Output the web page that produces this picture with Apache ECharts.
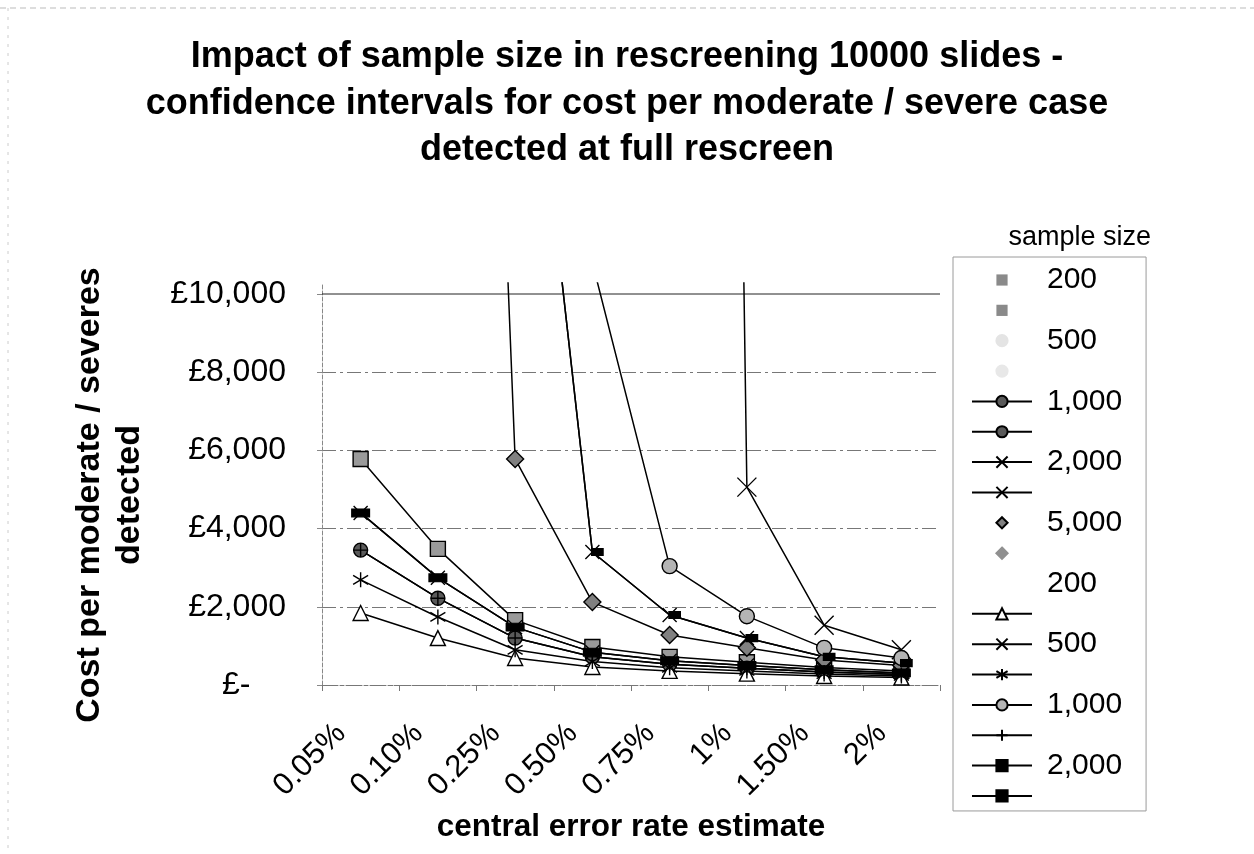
<!DOCTYPE html>
<html>
<head>
<meta charset="utf-8">
<script src="https://cdn.jsdelivr.net/npm/echarts@6/dist/echarts.min.js"></script>
<style>html,body{margin:0;padding:0;background:#fff}#c{width:1254px;height:854px}</style>
</head>
<body>
<div id="c"></div>
<script>
// ---- data ----
const categories = ['0.05%', '0.10%', '0.25%', '0.50%', '0.75%', '1%', '1.50%', '2%'];
const yTicks = [0, 2000, 4000, 6000, 8000, 10000];

// left family (finite from the smallest rate)
const graySquareVals = [5780, 3480, 1660, 970, 720, 580, 450, 360];
const xBarVals       = [4400, 2740, 1480, 840, 620, 500, 390, 310];
const darkCircleVals = [3450, 2220, 1200, 720, 530, 430, 330, 270];
const asteriskVals   = [2690, 1740, 900, 600, 440, 360, 280, 230];
const triangleVals   = [1840, 1200, 690, 460, 360, 290, 230, 190];
// right family (off the chart at low rates)
const diamondVals    = ['-', 55000, 5780, 2120, 1280, 950, 640, 500];
const xSmallBarVals  = ['-', '-', 21000, 3400, 1790, 1200, 720, 560];
const grayCircleVals = ['-', '-', '-', 10800, 3040, 1760, 950, 690];
const bigXVals       = ['-', '-', '-', '-', 140000, 5060, 1530, 900];

const legendNames  = ['u200a','u200b','u500a','u500b','u1000a','u1000b','u2000a','u2000b','u5000a','u5000b',
                      'l200a','l200b','l500a','l500b','l1000a','l1000b','l2000a','l2000b'];
const legendLabels = ['200','','500','','1,000','','2,000','','5,000','',
                      '200','','500','','1,000','','2,000',''];

// ---- styles ----
const FONT = '"Liberation Sans", Arial, Helvetica, sans-serif';
const X_PATH = 'path://M0,0L10,10M10,0L0,10';
const AST_PATH = 'path://M5,0L5,10M0.7,2L9.3,8M0.7,8L9.3,2';
const PLUS_PATH = 'path://M5,0L5,10M0,5L10,5';
const LINE = {color: '#000', width: 1.5};

function ser(name, data, symbol, size, fill, border, extra) {
  return Object.assign({
    name: name, type: 'line', data: data,
    symbol: symbol, symbolSize: size, showSymbol: true,
    lineStyle: LINE,
    itemStyle: {color: fill, borderColor: border, borderWidth: 1.4},
    emphasis: {disabled: true},
    animation: false, z: 3
  }, extra || {});
}

const series = [
  ser('u200a', graySquareVals, 'rect', 15, '#9a9a9a', '#000'),
  ser('u200b', [], 'rect', 10, '#8a8a8a', '#8a8a8a'),
  ser('u500a', [], 'circle', 6, '#e4e4e4', '#e4e4e4'),
  ser('u500b', [], 'circle', 6, '#e8e8e8', '#e8e8e8'),
  ser('u1000a', darkCircleVals, 'circle', 14, '#5a5a5a', '#000'),
  ser('u1000b', [], 'circle', 14, '#5a5a5a', '#000'),
  ser('u2000a', xSmallBarVals, X_PATH, 14, 'transparent', '#000'),
  ser('u2000b', xBarVals, X_PATH, 14, 'transparent', '#000'),
  ser('u5000a', diamondVals, 'diamond', 17, '#808080', '#000'),
  ser('u5000b', [], 'diamond', 17, '#909090', '#909090'),
  ser('l200a', [], 'none', 1, 'transparent', 'transparent'),
  ser('l200b', triangleVals, 'triangle', 15, '#fff', '#000'),
  ser('l500a', bigXVals, X_PATH, 19, 'transparent', '#000'),
  ser('l500b', asteriskVals, AST_PATH, 15, 'transparent', '#000'),
  ser('l1000a', grayCircleVals, 'circle', 15, '#b4b4b4', '#000'),
  ser('l1000b', darkCircleVals, PLUS_PATH, 14, 'transparent', '#000'),
  ser('l2000a', xSmallBarVals, 'rect', [11, 7], '#000', '#000', {symbolOffset: [5, 0]}),
  ser('l2000b', xBarVals, 'rect', [17, 8], '#000', '#000')
];

const hideLine = {width: 0, opacity: 0};
const legendData = legendNames.map(function (n) {
  const item = {name: n};
  if (['u200a','u200b','u500a','u500b','u5000a','u5000b'].indexOf(n) >= 0) item.lineStyle = hideLine;
  if (n === 'u200a' || n === 'u200b') item.itemStyle = {borderWidth: 0, color: '#8a8a8a'};
  if (n === 'l200a') { item.lineStyle = hideLine; item.itemStyle = {opacity: 0}; }
  return item;
});

const chart = echarts.init(document.getElementById('c'), null, {renderer: 'canvas'});
chart.setOption({
  backgroundColor: '#fff',
  animation: false,
  textStyle: {fontFamily: FONT},
  title: [
    {
      text: 'Impact of sample size in rescreening 10000 slides -\nconfidence intervals for cost per moderate / severe case\ndetected at full rescreen',
      left: 'center', top: 34, padding: 0,
      textStyle: {fontFamily: FONT, fontSize: 36, fontWeight: 'bold', color: '#000', lineHeight: 46.5}
    },
    {
      text: 'sample size', right: 103, top: 224, padding: 0,
      textStyle: {fontFamily: FONT, fontSize: 27, fontWeight: 'normal', color: '#000'}
    }
  ],
  legend: {
    orient: 'vertical', left: 953, top: 257,
    padding: [8, 24, 0, 18],
    itemWidth: 60, itemHeight: 14, itemGap: 0.35,
    borderColor: '#9a9a9a', borderWidth: 1,
    selectedMode: false,
    data: legendData,
    formatter: function (name) {
      const lab = legendLabels[legendNames.indexOf(name)];
      return lab === '' ? '\u00a0' : lab;
    },
    textStyle: {fontFamily: FONT, fontSize: 30, color: '#000', lineHeight: 30, padding: [0, 0, 0, 10]}
  },
  grid: {left: 322, right: 314, top: 283, bottom: 169, containLabel: false},
  xAxis: {
    type: 'category', data: categories, boundaryGap: true,
    name: 'central error rate estimate', nameLocation: 'middle', nameGap: 126, nameMoveOverlap: false,
    nameTextStyle: {fontFamily: FONT, fontSize: 31.5, fontWeight: 'bold', color: '#000', lineHeight: 32},
    axisLine: {lineStyle: {color: '#777', width: 1, type: 'dashed'}},
    axisTick: {show: true, alignWithLabel: false, length: 6, lineStyle: {color: '#777'}},
    axisLabel: {rotate: 45, fontFamily: FONT, fontSize: 31, color: '#000', margin: 24,
                padding: [0, 28, 0, 0], interval: 0}
  },
  yAxis: {
    type: 'value', min: 0, max: 10280, interval: 2000,
    name: 'Cost per moderate / severes\ndetected', nameLocation: 'middle', nameRotate: 90, nameGap: 172,
    nameMoveOverlap: false,
    nameTextStyle: {fontFamily: FONT, fontSize: 34, fontWeight: 'bold', color: '#000', lineHeight: 40,
                    padding: [0, 22, 0, 0]},
    axisLine: {show: true, lineStyle: {color: '#888', width: 1, type: 'dashed'}},
    axisTick: {show: true, length: 5, customValues: yTicks, lineStyle: {color: '#888'}},
    splitLine: {show: true, showMaxLine: false, lineStyle: {color: '#777', width: 1, type: [14, 4, 3, 4]}},
    axisLabel: {
      fontFamily: FONT, fontSize: 32, color: '#000', margin: 36,
      customValues: yTicks,
      formatter: function (v) {
        if (v === 0) return '£-\u00a0\u00a0\u00a0\u00a0';
        return '£' + v.toLocaleString('en-GB');
      }
    }
  },
  graphic: [
    {type: 'line', shape: {x1: 322, y1: 294, x2: 940, y2: 294}, style: {stroke: '#222', lineWidth: 1}, z: 1},
    {type: 'line', shape: {x1: 0, y1: 8, x2: 1254, y2: 8}, style: {stroke: '#bbb', lineWidth: 1, lineDash: [6, 4]}, z: 0},
    {type: 'line', shape: {x1: 8, y1: 8, x2: 8, y2: 854}, style: {stroke: '#ccc', lineWidth: 1, lineDash: [3, 6]}, z: 0}
  ],
  series: series
});
</script>
</body>
</html>
